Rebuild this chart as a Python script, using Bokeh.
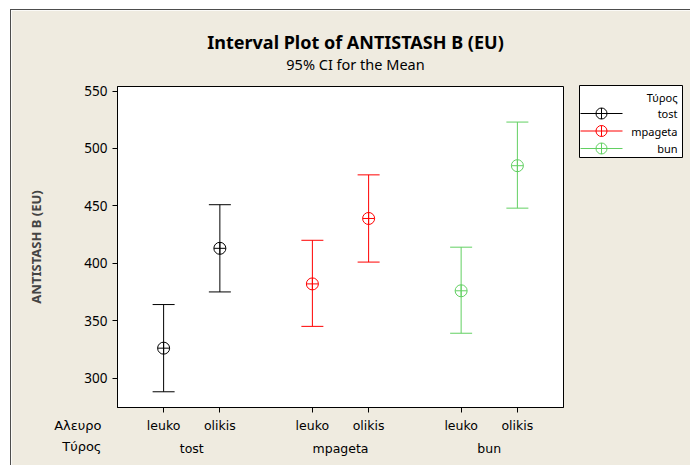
from bokeh.plotting import figure
from bokeh.models import (FactorRange, Range1d, FixedTicker, ColumnDataSource)
from bokeh.embed import file_html
from bokeh.resources import INLINE
from bokeh.core.properties import value

# ---- data ----
tyros = ["tost", "tost", "mpageta", "mpageta", "bun", "bun"]
aleuro = ["leuko", "olikis", "leuko", "olikis", "leuko", "olikis"]
means = [326, 413, 382, 439, 376, 485]
lower = [288, 375, 345, 401, 339, 448]
upper = [364, 451, 420, 477, 414, 523]
group_order = ["tost", "mpageta", "bun"]
group_colors = ["#000000", "#FF0000", "#62D062"]
y_ticks = [300, 350, 400, 450, 500, 550]

FONT = "Noto Sans"
AXFONT = "DejaVu Sans"
BG = "#EFEBE0"
FW, FH = 446, 321  # plot-frame size in px
GPAD, RPAD = 0.645, 0.32

factors = list(zip(tyros, aleuro))
x_range = FactorRange(factors=factors, factor_padding=0.0, group_padding=GPAD,
                      range_padding=RPAD, range_padding_units="absolute")

p = figure(width=680, height=456, x_range=x_range, y_range=Range1d(274.3, 554),
           output_backend="svg", toolbar_location=None,
           min_border_left=106, min_border_top=76, min_border_right=128,
           min_border_bottom=59)
p.styles = {"margin-left": "10px", "margin-top": "9px",
            "border-left": "1px solid #4d4d4d", "border-top": "1px solid #4d4d4d"}
p.border_fill_color = BG
p.background_fill_color = "white"
p.outline_line_color = "black"
p.outline_line_width = 1
p.xgrid.visible = False
p.ygrid.visible = False
# pixel-like helper range (vertical) for annotations drawn around the frame
p.extra_y_ranges = {"py": Range1d(0, FH)}

# horizontal pixel position -> categorical coordinate with offset
SPAN = len(factors) + (len(group_order) - 1) * GPAD + 2 * RPAD
UNIT = FW / SPAN
C0 = (RPAD + 0.5) * UNIT


def fx(px):
    return (factors[0][0], factors[0][1], (px - C0) / UNIT)


for g, c in zip(group_order, group_colors):
    idx = [i for i, t in enumerate(tyros) if t == g]
    src = ColumnDataSource(dict(
        x=[factors[i] for i in idx],
        mean=[means[i] for i in idx],
        lower=[lower[i] for i in idx],
        upper=[upper[i] for i in idx],
    ))
    p.segment(x0="x", y0="lower", x1="x", y1="upper", source=src,
              line_color=c, line_width=1)
    p.scatter(x="x", y="upper", marker="dash", size=22, line_color=c,
              line_width=1, source=src)
    p.scatter(x="x", y="lower", marker="dash", size=22, line_color=c,
              line_width=1, source=src)
    p.scatter(x="x", y="mean", marker="circle_cross", size=12,
              line_color=c, fill_color=None, line_width=1, source=src)

# ---- legend (drawn around the frame) ----
ov = dict(y_range_name="py", level="overlay")
n = len(group_order)
p.quad(left=[fx(462)], right=[fx(565)], bottom=[250], top=[322], fill_color="white",
       line_color="black", line_width=1, **ov)
p.text(x=[fx(560)], y=[310], text=["Τύρος"], text_align="right", text_baseline="middle",
       text_font=value(FONT), text_font_size="11px", text_color="black", **ov)
row_y = [294 - 17.5 * k for k in range(n)]
p.segment(x0=[fx(463)] * n, y0=row_y, x1=[fx(505)] * n, y1=row_y,
          line_color=group_colors, line_width=1, **ov)
p.ellipse(x=[fx(484)] * n, y=row_y, width=11, height=11, width_units="screen",
          height_units="screen", fill_color=None, line_color=group_colors,
          line_width=1, **ov)
p.segment(x0=[fx(484)] * n, y0=[v - 5.5 for v in row_y], x1=[fx(484)] * n,
          y1=[v + 5.5 for v in row_y], line_color=group_colors, line_width=1, **ov)
p.text(x=[fx(560)] * n, y=row_y, text=group_order, text_align="right",
       text_baseline="middle", text_font=value(FONT), text_font_size="11px",
       text_color="black", **ov)

# ---- titles ----
p.text(x=[fx(238)], y=[366], text=["Interval Plot of ANTISTASH B (EU)"],
       text_align="center", text_baseline="middle", text_font=value(FONT),
       text_font_size="18px", text_font_style="bold", text_color="black", **ov)
p.text(x=[fx(238)], y=[344], text=["95% CI for the Mean"], text_align="center",
       text_baseline="middle", text_font=value(FONT), text_font_size="14.5px",
       text_color="black", **ov)

# ---- row names of the x axis ----
p.text(x=[fx(-16), fx(-16)], y=[-18, -39], text=["Αλευρο", "Τύρος"], text_align="right",
       text_baseline="middle", text_font=value(AXFONT), text_font_size="13px",
       text_color="black", **ov)

# y axis
p.yaxis.ticker = FixedTicker(ticks=y_ticks)
p.yaxis.minor_tick_line_color = None
p.yaxis.major_tick_in = 0
p.yaxis.major_tick_out = 5
p.yaxis.major_label_text_font = FONT
p.yaxis.major_label_text_font_size = "13.5px"
p.yaxis.major_label_text_color = "black"
p.yaxis.axis_label = "ANTISTASH B (EU)"
p.yaxis.axis_label_text_font = FONT
p.yaxis.axis_label_text_font_size = "13px"
p.yaxis.axis_label_text_font_style = "bold"
p.yaxis.axis_label_standoff = 36
p.yaxis.axis_line_color = "black"

# x axis
p.xaxis.major_tick_in = 0
p.xaxis.major_tick_out = 5
p.xaxis.major_label_text_font = AXFONT
p.xaxis.major_label_text_font_size = "12.5px"
p.xaxis.major_label_text_color = "black"
p.xaxis.group_text_font = AXFONT
p.xaxis.group_text_font_size = "12.5px"
p.xaxis.group_text_font_style = "normal"
p.xaxis.group_text_color = "black"
p.xaxis.separator_line_color = None
p.xaxis.axis_line_color = "black"

open("out.html", "w").write(file_html(p, INLINE))
